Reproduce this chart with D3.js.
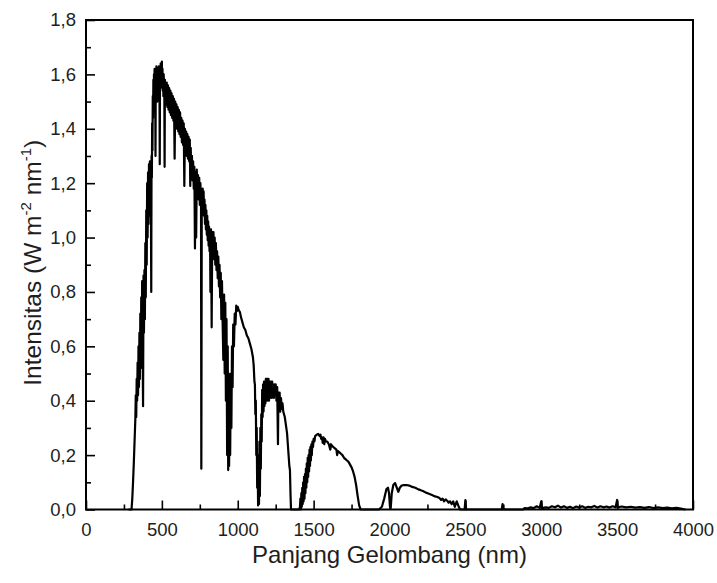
<!DOCTYPE html>
<html>
<head>
<meta charset="utf-8">
<script src="https://cdnjs.cloudflare.com/ajax/libs/d3/7.8.5/d3.min.js"></script>
<style>
  body { margin: 0; background: #fff; }
  text { font-family: "Liberation Sans", Arial, sans-serif; fill: #1e1e1e; }
</style>
</head>
<body>
<div id="chart"></div>
<script type="text/javascript">

      // tick values
      var xTicks = [0, 500, 1000, 1500, 2000, 2500, 3000, 3500, 4000];
      var yTicks = [0, 0.2, 0.4, 0.6, 0.8, 1.0, 1.2, 1.4, 1.6, 1.8];
      var xLabel = "Panjang Gelombang (nm)";

      // spectrum: [wavelength nm, intensity W m-2 nm-1]
      var spectrum = [
        [280,0],[300,0],[305,0.04],[310,0.1],[315,0.17],[320,0.25],[325,0.33],[328,0.42],[331,0.34],[334,0.48],
        [337,0.4],[340,0.54],[343,0.42],[346,0.6],[349,0.45],[352,0.65],[355,0.48],[358,0.72],[361,0.52],[364,0.78],
        [367,0.56],[370,0.84],[373,0.6],[376,0.38],[379,0.86],[382,0.65],[385,0.88],[388,0.7],[391,0.98],[394,0.78],
        [397,1.1],[400,0.9],[403,1.2],[406,1.0],[409,1.24],[412,1.05],[415,1.27],[418,1.08],[421,1.28],[424,1.1],
        [427,1.25],[430,0.8],[432,1.3],[434,1.22],[436,1.42],[438,1.32],[440,1.52],[442,1.44],[444,1.58],[446,1.5],
        [448,1.6],[450,1.52],[452,1.62],[454,1.54],[456,1.6],[458,1.3],[460,1.62],[462,1.54],[464,1.63],[466,1.55],
        [468,1.6],[470,1.5],[472,1.62],[474,1.54],[476,1.6],[478,1.52],[480,1.63],[482,1.55],[484,1.6],[486,1.27],
        [488,1.62],[490,1.55],[492,1.64],[494,1.56],[496,1.63],[498,1.57],[500,1.647],[502,1.55],[504,1.62],[506,1.54],
        [508,1.6],[510,1.52],[512,1.6],[514,1.52],[516,1.58],[518,1.26],[520,1.58],[522,1.5],[524,1.57],[528,1.49],
        [532,1.57],[536,1.48],[540,1.56],[544,1.47],[548,1.55],[552,1.46],[556,1.54],[560,1.45],[564,1.53],[568,1.44],
        [572,1.52],[576,1.43],[580,1.51],[584,1.29],[588,1.5],[592,1.41],[596,1.49],[600,1.4],[604,1.48],[608,1.39],
        [612,1.47],[616,1.38],[620,1.46],[624,1.37],[628,1.44],[632,1.35],[636,1.43],[640,1.34],[644,1.42],[648,1.19],
        [652,1.4],[656,1.32],[660,1.39],[664,1.3],[668,1.38],[672,1.29],[676,1.37],[680,1.28],[684,1.36],[687,1.19],
        [690,1.33],[694,1.24],[698,1.3],[702,1.21],[706,1.28],[710,1.18],[714,1.26],[718,0.96],[722,1.24],[726,1.0],
        [730,1.25],[734,1.15],[738,1.23],[742,1.14],[746,1.22],[750,1.12],[754,1.2],[758,1.12],[760,0.15],[763,1.15],
        [766,1.08],[769,1.18],[772,1.09],[775,1.17],[778,1.08],[781,1.14],[784,1.05],[787,1.12],[790,1.03],[793,1.1],
        [796,1.01],[799,1.08],[802,0.99],[805,1.06],[808,0.97],[811,1.04],[814,0.95],[817,1.03],[820,0.8],[824,1.03],
        [828,0.67],[832,1.02],[836,0.93],[840,1.02],[844,0.92],[848,1.0],[852,0.9],[856,0.98],[860,0.88],[864,0.95],
        [868,0.85],[872,0.93],[876,0.82],[880,0.9],[884,0.78],[888,0.87],[892,0.7],[896,0.84],[900,0.7],[905,0.55],
        [910,0.79],[914,0.5],[918,0.76],[922,0.4],[926,0.7],[930,0.2],[934,0.6],[937,0.145],[940,0.5],[943,0.16],
        [946,0.45],[950,0.2],[954,0.5],[958,0.3],[962,0.6],[966,0.45],[970,0.68],[975,0.6],[980,0.72],[985,0.68],
        [990,0.75],[995,0.73],[1000,0.745],[1005,0.735],[1010,0.73],[1015,0.725],[1020,0.71],[1030,0.69],[1040,0.67],[1050,0.66],
        [1060,0.64],[1070,0.63],[1080,0.61],[1090,0.59],[1100,0.56],[1105,0.53],[1110,0.47],[1113,0.46],[1116,0.35],[1119,0.4],
        [1122,0.2],[1125,0.3],[1128,0.08],[1131,0.2],[1134,0.015],[1137,0.12],[1140,0.02],[1143,0.25],[1146,0.05],[1149,0.3],
        [1152,0.15],[1155,0.35],[1158,0.25],[1161,0.44],[1164,0.34],[1167,0.46],[1170,0.36],[1173,0.47],[1176,0.38],[1179,0.47],
        [1182,0.39],[1185,0.48],[1188,0.4],[1191,0.48],[1194,0.4],[1197,0.48],[1200,0.41],[1203,0.48],[1206,0.4],[1209,0.47],
        [1212,0.41],[1215,0.47],[1218,0.42],[1221,0.47],[1224,0.41],[1227,0.47],[1230,0.42],[1234,0.46],[1238,0.41],[1242,0.46],
        [1246,0.42],[1250,0.46],[1255,0.4],[1260,0.45],[1265,0.24],[1268,0.43],[1272,0.38],[1276,0.43],[1280,0.36],[1285,0.41],
        [1290,0.37],[1295,0.39],[1300,0.36],[1310,0.34],[1320,0.3],[1325,0.28],[1330,0.24],[1335,0.2],[1340,0.16],[1344,0.145],
        [1348,0.05],[1351,0],[1405,0],[1410,0.01],[1413,0.04],[1416,0],[1419,0.06],[1422,0.01],[1425,0.08],[1428,0.02],
        [1431,0.1],[1434,0.03],[1437,0.12],[1440,0.04],[1443,0.13],[1446,0.06],[1449,0.15],[1452,0.08],[1455,0.17],[1458,0.1],
        [1461,0.19],[1464,0.12],[1467,0.2],[1470,0.14],[1473,0.22],[1476,0.16],[1479,0.23],[1482,0.18],[1485,0.24],[1488,0.2],
        [1492,0.25],[1496,0.23],[1500,0.26],[1505,0.25],[1510,0.27],[1520,0.275],[1530,0.278],[1540,0.27],[1545,0.275],[1550,0.26],
        [1555,0.265],[1560,0.245],[1565,0.265],[1570,0.24],[1575,0.26],[1580,0.25],[1590,0.25],[1600,0.24],[1610,0.22],[1615,0.24],
        [1620,0.235],[1630,0.23],[1640,0.225],[1650,0.22],[1655,0.2],[1660,0.215],[1670,0.21],[1680,0.205],[1690,0.2],[1700,0.19],
        [1710,0.185],[1720,0.18],[1730,0.175],[1740,0.165],[1750,0.155],[1760,0.14],[1770,0.12],[1780,0.09],[1790,0.05],[1800,0.015],
        [1810,0],[1930,0],[1950,0.01],[1965,0.04],[1980,0.075],[1990,0.08],[1997,0.06],[2003,0.01],[2008,0.005],[2015,0.06],
        [2025,0.09],[2037,0.097],[2048,0.08],[2058,0.065],[2068,0.08],[2080,0.088],[2095,0.09],[2113,0.09],[2130,0.088],[2150,0.083],
        [2170,0.08],[2190,0.074],[2201,0.072],[2220,0.068],[2240,0.062],[2260,0.058],[2280,0.053],[2300,0.048],[2311,0.047],[2330,0.042],
        [2340,0.035],[2350,0.04],[2360,0.03],[2370,0.037],[2380,0.032],[2390,0.025],[2399,0.03],[2410,0.02],[2420,0.03],[2430,0.01],
        [2443,0.03],[2455,0.012],[2465,0],[2495,0],[2500,0.035],[2505,0],[2740,0],[2745,0.02],[2750,0],[2880,0],
        [2890,0.005],[2910,0.004],[2930,0.008],[2950,0.005],[2970,0.012],[2990,0.006],[3000,0.03],[3005,0.005],[3030,0.008],[3050,0.006],
        [3070,0.012],[3090,0.008],[3110,0.014],[3130,0.007],[3150,0.012],[3170,0.006],[3190,0.01],[3210,0.005],[3230,0.011],[3250,0.007],
        [3270,0.012],[3290,0.006],[3310,0.01],[3330,0.008],[3350,0.013],[3370,0.007],[3390,0.012],[3410,0.008],[3430,0.011],[3450,0.007],
        [3470,0.012],[3490,0.008],[3500,0.035],[3505,0.008],[3530,0.011],[3560,0.008],[3590,0.01],[3620,0.007],[3650,0.009],[3680,0.006],
        [3710,0.009],[3740,0.005],[3770,0.008],[3800,0.005],[3830,0.007],[3860,0.004],[3890,0.006],[3920,0.003],[3950,0]
      ];

      var W = 717, H = 583;
      var margin = {top: 20, right: 24, bottom: 73.5, left: 86};
      var w = W - margin.left - margin.right;
      var h = H - margin.top - margin.bottom;

      var svg = d3.select("#chart")
                  .append("svg")
                  .attr("width", W)
                  .attr("height", H);

      var g = svg.append("g")
                 .attr("transform", "translate(" + margin.left + "," + margin.top + ")");

      var x = d3.scaleLinear().domain([0, 4000]).range([0, w]);
      var y = d3.scaleLinear().domain([0, 1.8]).range([h, 0]);

      var fmt = function(d) { return d3.format(".1f")(d).replace(".", ","); };

      // minor ticks first (inward, no labels)
      g.append("g")
       .attr("transform", "translate(0," + h + ")")
       .call(d3.axisTop(x).tickValues(d3.range(250, 4000, 500)).tickSize(5).tickFormat(""))
       .call(function(s) { s.select(".domain").remove(); s.selectAll("line").attr("stroke-width", 1.6); });

      g.append("g")
       .call(d3.axisRight(y).tickValues(d3.range(1, 18, 2).map(function(d) { return d / 10; })).tickSize(5).tickFormat(""))
       .call(function(s) { s.select(".domain").remove(); s.selectAll("line").attr("stroke-width", 1.6); });

      // major ticks
      var xAxis = g.append("g")
       .attr("transform", "translate(0," + h + ")")
       .call(d3.axisTop(x).tickValues(xTicks).tickSize(9).tickFormat(d3.format("d")));
      xAxis.select(".domain").remove();
      xAxis.selectAll("line").attr("stroke-width", 1.6);
      xAxis.selectAll("text")
           .attr("y", 26)
           .style("font-size", "18.5px")
           .style("fill", "#1e1e1e");

      var yAxis = g.append("g")
       .call(d3.axisRight(y).tickValues(yTicks).tickSize(9).tickFormat(fmt));
      yAxis.select(".domain").remove();
      yAxis.selectAll("line").attr("stroke-width", 1.6);
      yAxis.selectAll("text")
           .attr("x", -10)
           .attr("text-anchor", "end")
           .style("font-size", "18.5px")
           .style("fill", "#1e1e1e");

      // the line
      var line = d3.line()
                   .x(function(d) { return x(d[0]); })
                   .y(function(d) { return y(d[1]); });

      g.append("path")
       .datum(spectrum)
       .attr("d", line)
       .attr("fill", "none")
       .attr("stroke", "#000")
       .attr("stroke-width", 2.2)
       .attr("stroke-linejoin", "round");

      // frame
      g.append("rect")
       .attr("x", 0).attr("y", 0)
       .attr("width", w).attr("height", h)
       .attr("fill", "none")
       .attr("stroke", "#000")
       .attr("stroke-width", 2);

      // axis titles
      svg.append("text")
         .attr("x", margin.left + w / 2)
         .attr("y", 563)
         .attr("text-anchor", "middle")
         .style("font-size", "24px")
         .text(xLabel);

      var yt = svg.append("text")
         .attr("transform", "translate(41," + (margin.top + h / 2 - 2) + ") rotate(-90)")
         .attr("text-anchor", "middle")
         .style("font-size", "24.5px");
      yt.append("tspan").text("Intensitas (W m");
      yt.append("tspan").attr("dy", -10).style("font-size", "15px").text("-2");
      yt.append("tspan").attr("dy", 10).text(" nm");
      yt.append("tspan").attr("dy", -10).style("font-size", "15px").text("-1");
      yt.append("tspan").attr("dy", 10).text(")");

</script>
</body>
</html>
